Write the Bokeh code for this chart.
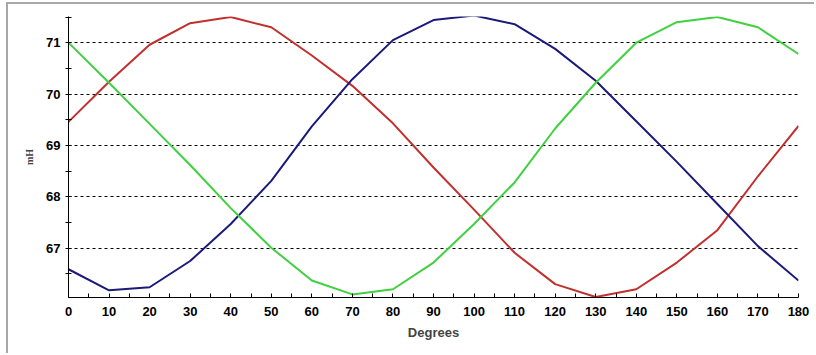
from bokeh.plotting import figure
from bokeh.models import Range1d, FixedTicker
from bokeh.embed import file_html
from bokeh.resources import INLINE

degrees = [0, 10, 20, 30, 40, 50, 60, 70, 80, 90, 100, 110, 120, 130, 140, 150, 160, 170, 180]
red_mh = [69.46, 70.24, 70.96, 71.38, 71.50, 71.30, 70.75, 70.16, 69.43, 68.57, 67.75, 66.91, 66.30, 66.05, 66.20, 66.72, 67.35, 68.40, 69.38]
blue_mh = [66.59, 66.18, 66.24, 66.75, 67.47, 68.31, 69.37, 70.29, 71.05, 71.44, 71.53, 71.36, 70.88, 70.26, 69.47, 68.68, 67.86, 67.04, 66.37]
green_mh = [71.00, 70.22, 69.42, 68.62, 67.78, 67.01, 66.37, 66.10, 66.20, 66.72, 67.47, 68.28, 69.33, 70.22, 71.00, 71.40, 71.50, 71.30, 70.78]
y_major = [67, 68, 69, 70, 71]
y_minor = [66.5, 67.5, 68.5, 69.5, 70.5, 71.5]
x_major = list(range(0, 181, 10))
x_minor = list(range(5, 181, 10))

p = figure(width=808, height=351, output_backend="svg", toolbar_location=None,
           x_range=Range1d(0, 180), y_range=Range1d(66.04, 71.51),
           min_border_left=60, min_border_right=18, min_border_top=12, min_border_bottom=58)
p.styles = {"margin-left": "6px", "margin-top": "2px",
            "border-left": "2px solid #a8a8a8", "border-top": "2px solid #a8a8a8"}
p.outline_line_color = None
p.background_fill_color = "white"
p.border_fill_color = "white"

p.xgrid.grid_line_color = None
p.ygrid.grid_line_color = "black"
p.ygrid.grid_line_dash = "3 3"
p.ygrid.grid_line_width = 1
p.ygrid.ticker = FixedTicker(ticks=y_major)

p.xaxis.ticker = FixedTicker(ticks=x_major, minor_ticks=x_minor)
p.yaxis.ticker = FixedTicker(ticks=y_major, minor_ticks=y_minor)

for ax in (p.xaxis[0], p.yaxis[0]):
    ax.axis_line_color = "black"
    ax.major_tick_line_color = "black"
    ax.minor_tick_line_color = "black"
    ax.major_label_text_font = "Liberation Sans"
    ax.major_label_text_font_style = "bold"
    ax.major_label_text_font_size = "13px"
    ax.major_label_text_color = "black"

p.xaxis.major_tick_in = 4
p.xaxis.major_tick_out = 0
p.xaxis.minor_tick_in = 4
p.xaxis.minor_tick_out = 0
p.xaxis.major_label_standoff = 9
p.xaxis.axis_label = "Degrees"
p.xaxis.axis_label_text_font = "Liberation Sans"
p.xaxis.axis_label_text_font_style = "bold"
p.xaxis.axis_label_text_font_size = "13px"
p.xaxis.axis_label_standoff = 6

p.yaxis.major_tick_in = 3
p.yaxis.major_tick_out = 3
p.yaxis.minor_tick_in = 3
p.yaxis.minor_tick_out = 3
p.yaxis.major_label_standoff = 5
p.yaxis.axis_label = "mH"
p.yaxis.axis_label_text_font = "Liberation Serif"
p.yaxis.axis_label_text_font_style = "bold"
p.yaxis.axis_label_text_font_size = "10px"
p.yaxis.axis_label_standoff = 8

p.line(degrees, red_mh, line_color="#c0302e", line_width=2)
p.line(degrees, blue_mh, line_color="#1a1a7a", line_width=2)
p.line(degrees, green_mh, line_color="#40d040", line_width=2)

open("out.html", "w").write(file_html(p, INLINE))
